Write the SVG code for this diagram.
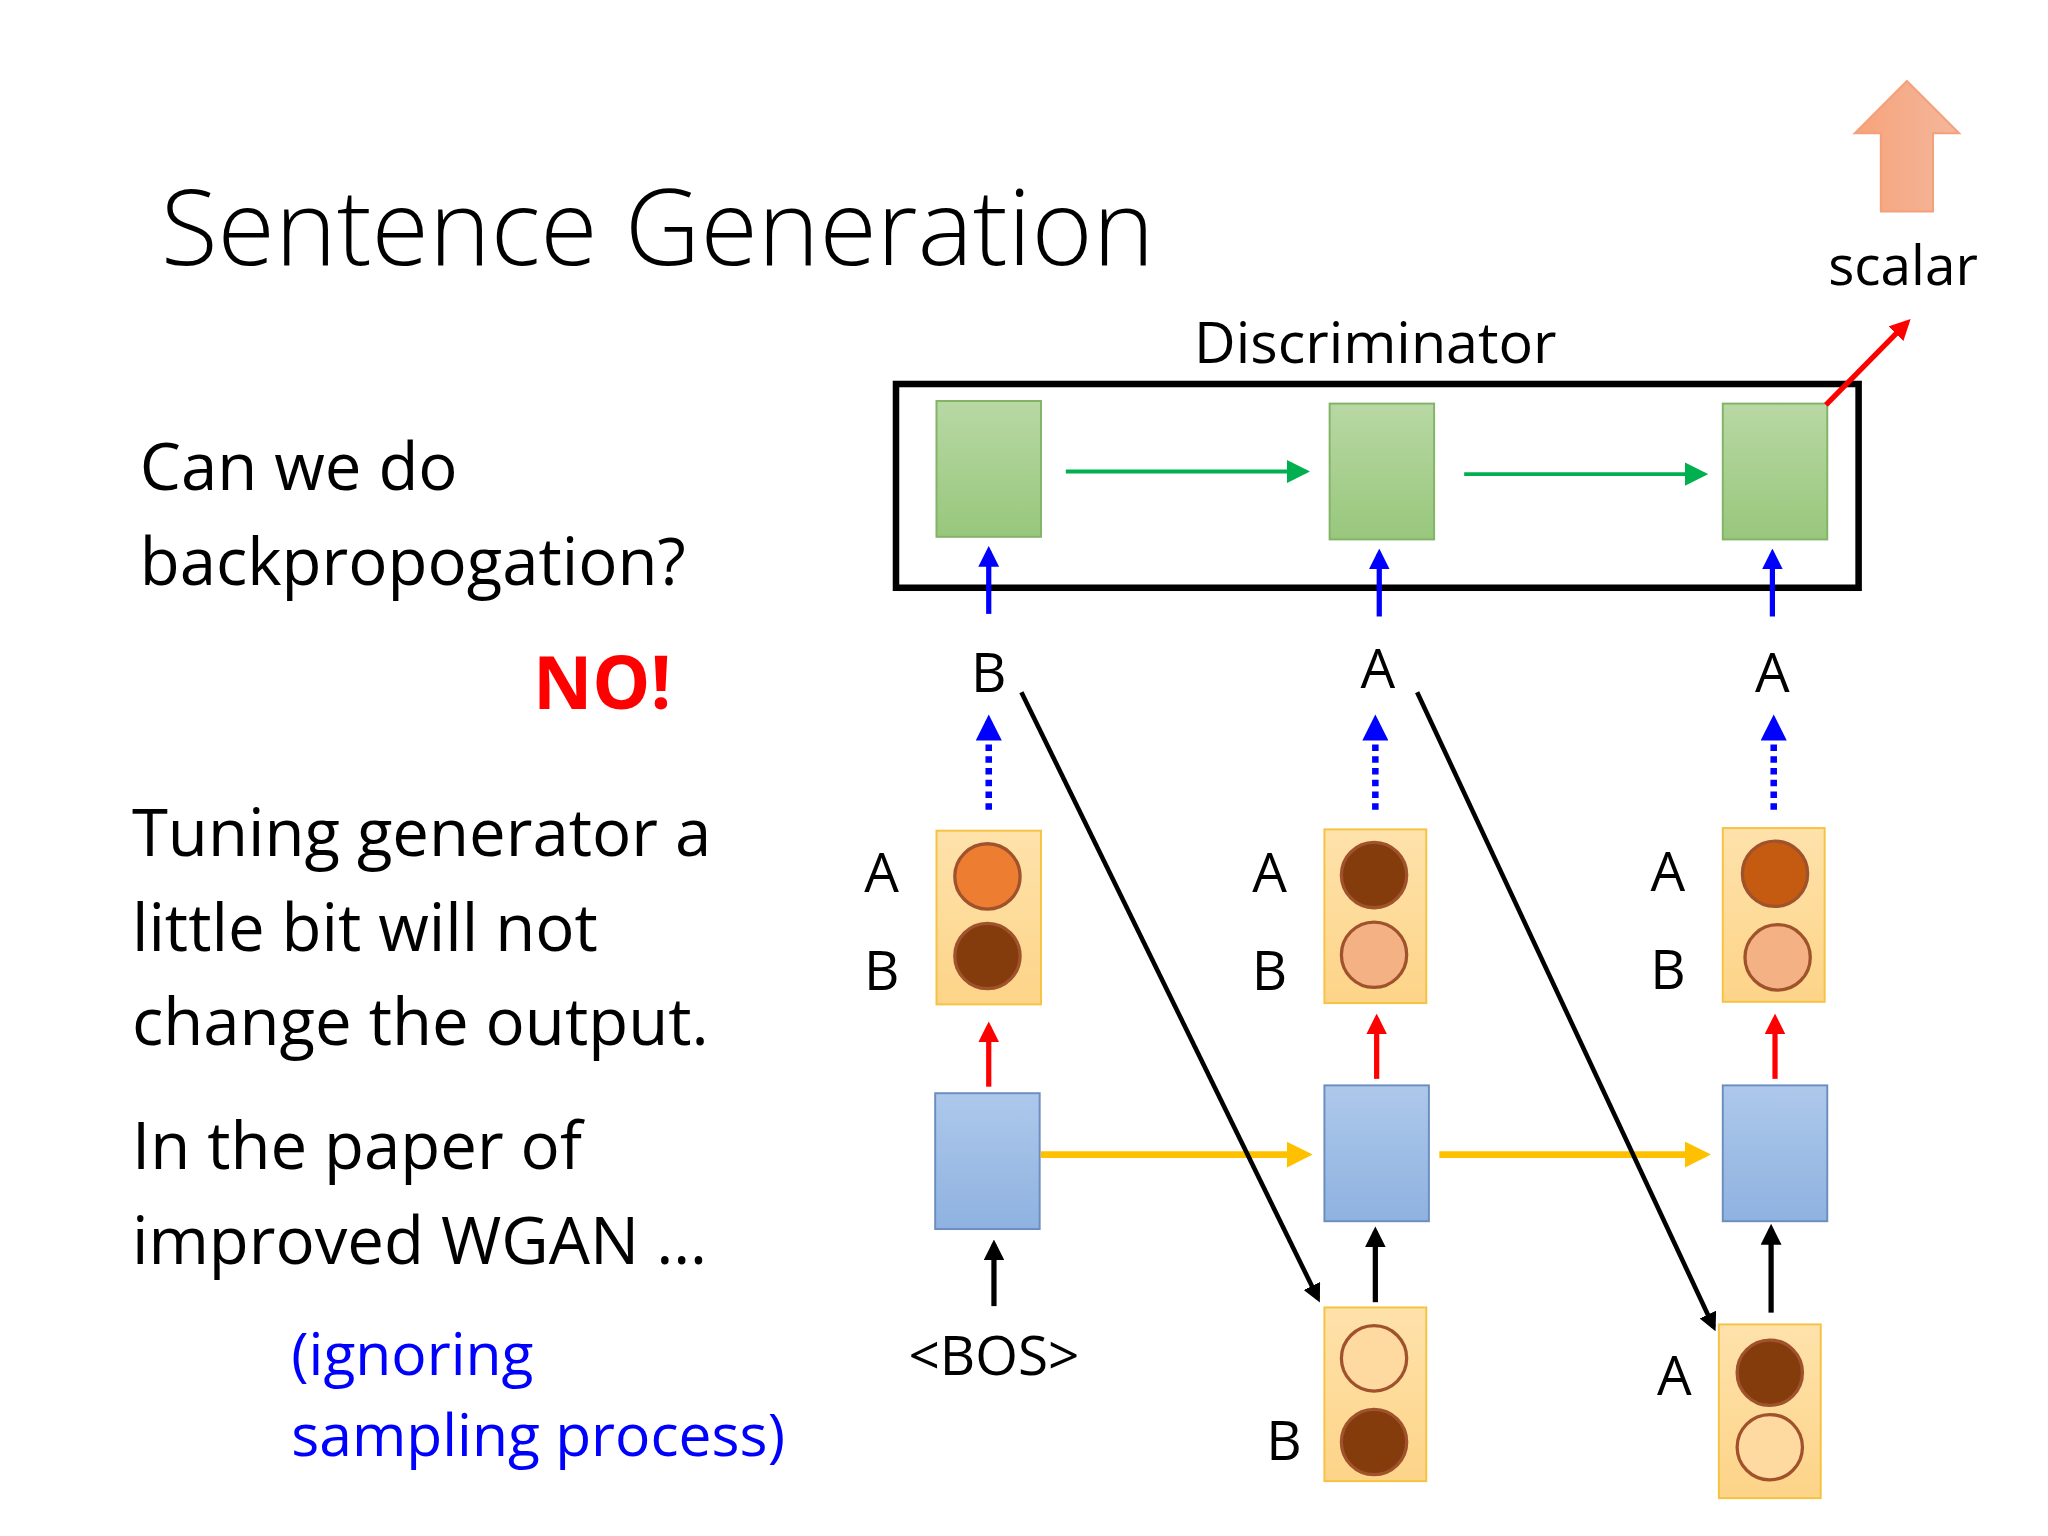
<svg xmlns="http://www.w3.org/2000/svg" width="2048" height="1536" viewBox="0 0 2048 1536">
<style>
text{font-family:"Open Sans","Liberation Sans",sans-serif;fill:#000}
.big{font-size:50px}
.lbl{font-size:42px;text-anchor:middle}
.gb{fill:url(#gg);stroke:#82b366;stroke-width:1.5}
.bb{fill:url(#bg);stroke:#6c8ebf;stroke-width:1.5}
.ob{fill:url(#og);stroke:#f5c242;stroke-width:1.5}
.c{stroke:#a0522d;stroke-width:2.5}
</style>
<defs>
<linearGradient id="gg" x1="0" y1="0" x2="0" y2="1"><stop offset="0" stop-color="#b8d8a4"/><stop offset="1" stop-color="#98c77c"/></linearGradient>
<linearGradient id="bg" x1="0" y1="0" x2="0" y2="1"><stop offset="0" stop-color="#adc8eb"/><stop offset="1" stop-color="#8fb2e0"/></linearGradient>
<linearGradient id="og" x1="0" y1="0" x2="0" y2="1"><stop offset="0" stop-color="#fee2ab"/><stop offset="1" stop-color="#fdd488"/></linearGradient>
<linearGradient id="sg" x1="0" y1="0" x2="1" y2="0"><stop offset="0" stop-color="#f6a37a"/><stop offset="1" stop-color="#f4b79c"/></linearGradient>
<marker id="mg" markerWidth="6" markerHeight="6" refX="5" refY="3" orient="auto" markerUnits="strokeWidth"><path d="M0,0L6,3L0,6z" fill="#00b050"/></marker>
<marker id="mb" markerWidth="4" markerHeight="4" refX="3" refY="2" orient="auto" markerUnits="strokeWidth"><path d="M0,0L4,2L0,4z" fill="#0000ff"/></marker>
<marker id="mr" markerWidth="4" markerHeight="4" refX="3" refY="2" orient="auto" markerUnits="strokeWidth"><path d="M0,0L4,2L0,4z" fill="#ff0000"/></marker>
<marker id="my" markerWidth="4" markerHeight="4" refX="3" refY="2" orient="auto" markerUnits="strokeWidth"><path d="M0,0L4,2L0,4z" fill="#ffc000"/></marker>
<marker id="mk" markerWidth="4" markerHeight="4" refX="3" refY="2" orient="auto" markerUnits="strokeWidth"><path d="M0,0L4,2L0,4z" fill="#000"/></marker>
</defs>
<rect width="2048" height="1536" fill="#fff"/>
<g transform="scale(1.30612)">
<g id="texts">
<text x="123" y="203" style="font-size:80px;font-weight:300">Sentence Generation</text>
<text class="big" x="107" y="375">Can we do</text>
<text class="big" x="107" y="448">backpropogation?</text>
<text x="408" y="543" style="font-size:56px;font-weight:bold;fill:#ff0000">NO!</text>
<text class="big" x="101" y="655">Tuning generator a</text>
<text class="big" x="101" y="728">little bit will not</text>
<text class="big" x="101" y="800">change the output.</text>
<text class="big" x="101" y="895">In the paper of</text>
<text class="big" x="101" y="968">improved WGAN …</text>
<text x="223" y="1053" style="font-size:45px;fill:#0000ff">(ignoring</text>
<text x="223" y="1115" style="font-size:45px;fill:#0000ff">sampling process)</text>
</g>
<g id="discriminator">
<rect x="686" y="294" width="737" height="156" fill="none" stroke="#000" stroke-width="5"/>
<text class="lbl" x="1053" y="278" style="font-size:44px">Discriminator</text>
<rect class="gb" x="717" y="307" width="80" height="104"/>
<rect class="gb" x="1018" y="309" width="80" height="104"/>
<rect class="gb" x="1319" y="309" width="80" height="104"/>
</g>
<g id="scalar">
<polygon points="1460,62 1500,102 1480,102 1480,162 1440,162 1440,102 1420,102" fill="url(#sg)" stroke="#f4a07a" stroke-width="1.5"/>
<text class="lbl" x="1457" y="218">scalar</text>
</g>
<g id="tokens">
<text class="lbl" x="757" y="530">B</text>
<text class="lbl" x="1055" y="527">A</text>
<text class="lbl" x="1357" y="530">A</text>
<text class="lbl" x="761" y="1053">&lt;BOS&gt;</text>
</g>
<g id="gen1">
<rect class="ob" x="717" y="636" width="80" height="133"/>
<circle class="c" cx="756" cy="671" r="25" fill="#ed7d31"/>
<circle class="c" cx="756" cy="732" r="25" fill="#843c0c"/>
<text class="lbl" x="675" y="683">A</text><text class="lbl" x="675" y="758">B</text>
</g>
<g id="gen2">
<rect class="ob" x="1014" y="635" width="78" height="133"/>
<circle class="c" cx="1052" cy="670" r="25" fill="#843c0c"/>
<circle class="c" cx="1052" cy="731" r="25" fill="#f4b183"/>
<text class="lbl" x="972" y="683">A</text><text class="lbl" x="972" y="758">B</text>
</g>
<g id="gen3">
<rect class="ob" x="1319" y="634" width="78" height="133"/>
<circle class="c" cx="1359" cy="669" r="25" fill="#c55a11"/>
<circle class="c" cx="1361" cy="733" r="25" fill="#f4b183"/>
<text class="lbl" x="1277" y="682">A</text><text class="lbl" x="1277" y="757">B</text>
</g>
<g id="rnn">
<rect class="bb" x="716" y="837" width="80" height="104"/>
<rect class="bb" x="1014" y="831" width="80" height="104"/>
<rect class="bb" x="1319" y="831" width="80" height="104"/>
</g>
<g id="in2">
<rect class="ob" x="1014" y="1001" width="78" height="133"/>
<circle class="c" cx="1052" cy="1040" r="25" fill="#fed9a0"/>
<circle class="c" cx="1052" cy="1104" r="25" fill="#843c0c"/>
<text class="lbl" x="983" y="1118">B</text>
</g>
<g id="in3">
<rect class="ob" x="1316" y="1014" width="78" height="133"/>
<circle class="c" cx="1355" cy="1051" r="25" fill="#843c0c"/>
<circle class="c" cx="1355" cy="1108" r="25" fill="#fed9a0"/>
<text class="lbl" x="1282" y="1068">A</text>
</g>
<g id="connectors" fill="none">
<line x1="816" y1="361" x2="1000" y2="361" stroke="#00b050" stroke-width="3" marker-end="url(#mg)"/>
<line x1="1121" y1="363" x2="1305" y2="363" stroke="#00b050" stroke-width="3" marker-end="url(#mg)"/>
<line x1="1398" y1="310" x2="1460" y2="247" stroke="#ff0000" stroke-width="4" marker-end="url(#mr)"/>
<line x1="757" y1="470" x2="757" y2="422" stroke="#0000ff" stroke-width="4" marker-end="url(#mb)"/>
<line x1="1056" y1="472" x2="1056" y2="424" stroke="#0000ff" stroke-width="4" marker-end="url(#mb)"/>
<line x1="1357" y1="472" x2="1357" y2="424" stroke="#0000ff" stroke-width="4" marker-end="url(#mb)"/>
<line x1="757" y1="620" x2="757" y2="552" stroke="#0000ff" stroke-width="5" stroke-dasharray="5,4" marker-end="url(#mb)"/>
<line x1="1053" y1="620" x2="1053" y2="552" stroke="#0000ff" stroke-width="5" stroke-dasharray="5,4" marker-end="url(#mb)"/>
<line x1="1358" y1="620" x2="1358" y2="552" stroke="#0000ff" stroke-width="5" stroke-dasharray="5,4" marker-end="url(#mb)"/>
<line x1="757" y1="832" x2="757" y2="786" stroke="#ff0000" stroke-width="4" marker-end="url(#mr)"/>
<line x1="1054" y1="826" x2="1054" y2="780" stroke="#ff0000" stroke-width="4" marker-end="url(#mr)"/>
<line x1="1359" y1="826" x2="1359" y2="780" stroke="#ff0000" stroke-width="4" marker-end="url(#mr)"/>
<line x1="797" y1="884" x2="1000" y2="884" stroke="#ffc000" stroke-width="5" marker-end="url(#my)"/>
<line x1="1102" y1="884" x2="1305" y2="884" stroke="#ffc000" stroke-width="5" marker-end="url(#my)"/>
<line x1="761" y1="1000" x2="761" y2="953" stroke="#000" stroke-width="4" marker-end="url(#mk)"/>
<line x1="1053" y1="997" x2="1053" y2="943" stroke="#000" stroke-width="4" marker-end="url(#mk)"/>
<line x1="1356" y1="1005" x2="1356" y2="941" stroke="#000" stroke-width="4" marker-end="url(#mk)"/>
<line x1="782" y1="530" x2="1009" y2="994" stroke="#000" stroke-width="3.5" marker-end="url(#mk)"/>
<line x1="1085" y1="530" x2="1312" y2="1016" stroke="#000" stroke-width="3.5" marker-end="url(#mk)"/>
</g>
</g>
</svg>
